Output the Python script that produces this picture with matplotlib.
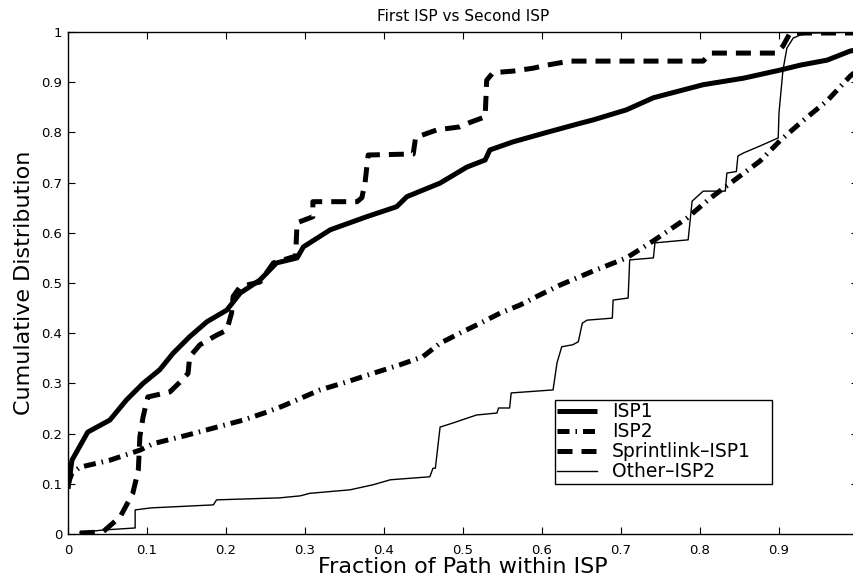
import matplotlib
matplotlib.use("Agg")
import matplotlib.pyplot as plt

plt.rcParams['font.family'] = ['DejaVu Sans']

# ISP1 (thick solid)
isp1_x = [0.0, 0.005, 0.025, 0.053, 0.074, 0.095, 0.116, 0.133, 0.154, 0.176, 0.201,
          0.218, 0.243, 0.264, 0.29, 0.298, 0.332, 0.378, 0.416, 0.429, 0.471, 0.505,
          0.528, 0.534, 0.563, 0.606, 0.648, 0.665, 0.707, 0.741, 0.804, 0.855, 0.901,
          0.927, 0.961, 0.99, 1.0]
isp1_y = [0.09, 0.147, 0.203, 0.227, 0.267, 0.30, 0.327, 0.36, 0.393, 0.423, 0.446,
          0.48, 0.506, 0.54, 0.55, 0.572, 0.606, 0.632, 0.652, 0.672, 0.699, 0.731,
          0.745, 0.765, 0.781, 0.80, 0.818, 0.825, 0.845, 0.869, 0.895, 0.908, 0.924,
          0.934, 0.944, 0.962, 0.965]

# ISP2 (thick dash-dot)
isp2_x = [0.0, 0.005, 0.015, 0.053, 0.091, 0.108, 0.151, 0.184, 0.222, 0.252, 0.272,
          0.319, 0.353, 0.378, 0.42, 0.449, 0.471, 0.496, 0.522, 0.547, 0.572, 0.597,
          0.623, 0.665, 0.707, 0.741, 0.784, 0.813, 0.842, 0.876, 0.901, 0.93, 0.961,
          0.99, 1.0]
isp2_y = [0.10, 0.121, 0.133, 0.147, 0.167, 0.18, 0.197, 0.211, 0.227, 0.243, 0.255,
          0.287, 0.303, 0.316, 0.337, 0.353, 0.38, 0.40, 0.42, 0.44, 0.456, 0.476,
          0.496, 0.524, 0.55, 0.584, 0.63, 0.669, 0.703, 0.743, 0.783, 0.823, 0.863,
          0.912, 0.925]

# Sprintlink-ISP1 (thick dashed)
sprint_x = [0.015, 0.044, 0.066, 0.082, 0.089, 0.091, 0.095, 0.101, 0.129, 0.142, 0.152,
            0.154, 0.167, 0.188, 0.201, 0.207, 0.209, 0.218, 0.243, 0.26, 0.285, 0.288,
            0.29, 0.31, 0.31, 0.366, 0.372, 0.376, 0.38, 0.437, 0.44, 0.467, 0.496,
            0.509, 0.528, 0.53, 0.538, 0.563, 0.589, 0.606, 0.635, 0.804, 0.813, 0.897,
            0.905, 0.914, 1.0]
sprint_y = [0.002, 0.004, 0.034, 0.081, 0.127, 0.194, 0.233, 0.273, 0.283, 0.303, 0.32,
            0.353, 0.377, 0.396, 0.406, 0.44, 0.473, 0.493, 0.502, 0.54, 0.552, 0.552,
            0.62, 0.632, 0.662, 0.662, 0.67, 0.70, 0.755, 0.757, 0.79, 0.805, 0.811,
            0.82, 0.831, 0.904, 0.919, 0.922, 0.928, 0.934, 0.942, 0.942, 0.958, 0.958,
            0.972, 0.998, 0.998]

# Other-ISP2 (thin solid, stepwise)
other_x = [0.015, 0.045, 0.085, 0.085, 0.105, 0.184, 0.188, 0.268, 0.294, 0.306, 0.357,
           0.386, 0.408, 0.458, 0.462, 0.465, 0.471, 0.487, 0.517, 0.543, 0.545, 0.559,
           0.561, 0.614, 0.619, 0.625, 0.639, 0.646, 0.651, 0.657, 0.689, 0.69, 0.709,
           0.711, 0.741, 0.743, 0.785, 0.79, 0.804, 0.832, 0.834, 0.846, 0.848, 0.855,
           0.876, 0.899, 0.9, 0.905, 0.91, 0.918, 0.927, 0.943, 1.0]
other_y = [0.003, 0.008, 0.012, 0.048, 0.052, 0.058, 0.068, 0.072, 0.076, 0.081, 0.088,
           0.098, 0.108, 0.114, 0.131, 0.131, 0.213, 0.221, 0.237, 0.241, 0.251, 0.251,
           0.281, 0.287, 0.341, 0.373, 0.377, 0.383, 0.42, 0.426, 0.43, 0.466, 0.47,
           0.546, 0.55, 0.58, 0.586, 0.663, 0.683, 0.683, 0.719, 0.722, 0.753, 0.759,
           0.773, 0.789, 0.839, 0.924, 0.968, 0.988, 0.994, 0.998, 1.0]

x_ticks = [0, 0.1, 0.2, 0.3, 0.4, 0.5, 0.6, 0.7, 0.8, 0.9]
x_tick_labels = ["0", "0.1", "0.2", "0.3", "0.4", "0.5", "0.6", "0.7", "0.8", "0.9"]
y_ticks = [0, 0.1, 0.2, 0.3, 0.4, 0.5, 0.6, 0.7, 0.8, 0.9, 1.0]
y_tick_labels = ["0", "0.1", "0.2", "0.3", "0.4", "0.5", "0.6", "0.7", "0.8", "0.9", "1"]

W, H = 854, 575
fig = plt.figure(figsize=(W / 100, H / 100), dpi=100)
ax = fig.add_axes([68 / W, (H - 534) / H, 790 / W, 502 / H])

ax.plot(isp1_x, isp1_y, color="black", lw=3.6, ls="-", label="ISP1",
        solid_capstyle="butt")
ax.plot(isp2_x, isp2_y, color="black", lw=3.6, dashes=(2.4, 1.2, 0.3, 1.2),
        label="ISP2", dash_capstyle="butt")
ax.plot(sprint_x, sprint_y, color="black", lw=3.6, dashes=(3.0, 1.8),
        label="Sprintlink\u2013ISP1", dash_capstyle="butt")
ax.plot(other_x, other_y, color="black", lw=1.0, ls="-", label="Other\u2013ISP2")

ax.set_xlim(0, 1.0)
ax.set_ylim(0, 1.0)
ax.set_xticks(x_ticks)
ax.set_xticklabels(x_tick_labels)
ax.set_yticks(y_ticks)
ax.set_yticklabels(y_tick_labels)
ax.tick_params(direction="in", length=5, width=0.8, top=True, right=True,
               labelsize=9.5, colors="black")
ax.tick_params(axis="x", pad=7)
ax.tick_params(axis="y", pad=4)
for s in ax.spines.values():
    s.set_linewidth(1.0)

ax.set_title("First ISP vs Second ISP", fontsize=11, pad=8)
ax.set_xlabel("Fraction of Path within ISP", fontsize=16, labelpad=0)
ax.set_ylabel("Cumulative Distribution", fontsize=16, labelpad=5)

leg = ax.legend(loc="lower left", bbox_to_anchor=(0.616, 0.0996, 0.275, 0.1634),
                mode="expand", fontsize=13.5, frameon=True, fancybox=False,
                edgecolor="black", framealpha=1, handlelength=2.1,
                handletextpad=0.8, labelspacing=0.05, borderpad=0.15,
                borderaxespad=0)
leg.get_frame().set_linewidth(1.0)

fig.savefig("out.png", dpi=100)
